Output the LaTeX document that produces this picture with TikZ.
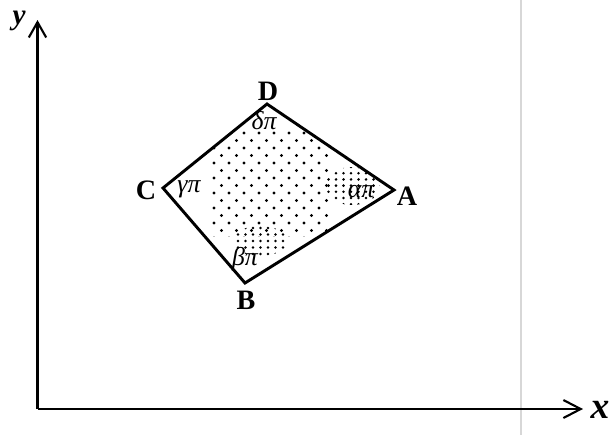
\documentclass[tikz,border=0pt]{standalone}
\usepackage{amsmath}
\usepackage{fontspec}
\setmainfont{Liberation Serif}
\usepackage{tikz}
\usetikzlibrary{arrows.meta, positioning, calc}
\definecolor{scangray}{RGB}{215, 215, 215}

\begin{document}
\begin{tikzpicture}[x=0.03cm, y=-0.03cm]
                \useasboundingbox (0,0) rectangle (612,435);
                % Scan edge
                \draw[scangray, line width=1.2pt] (521,0) -- (521,435);
                % Axes
                \coordinate (O) at (37.5,409);
                \coordinate (ytip) at (37.5,20);
                \coordinate (xtip) at (583,409);
                \draw[line width=2pt, -{Straight Barb[length=4.6mm, width=5.2mm, line width=1.8pt]}] (O) -- (ytip);
                \draw[line width=2pt, -{Straight Barb[length=5.2mm, width=5.4mm, line width=1.8pt]}] (O) -- (xtip);
                \node[font=\fontsize{25}{28}\selectfont\bfseries\itshape] (ylab) at (19,21) {y};
                \node[font=\fontsize{32}{35}\selectfont\bfseries\itshape] (xlab) at (600,410) {x};
                % Quadrilateral
                \coordinate (A) at (394,190);
                \coordinate (B) at (245,283);
                \coordinate (C) at (163,188);
                \coordinate (D) at (267,104);
                % Stipple
                \begin{scope}
                    \clip (A) -- (B) -- (C) -- (D) -- cycle;
                    \begin{scope}
                        \clip (212,131) rectangle (330,236);
                        \foreach \j in {0,...,14} {
                            \pgfmathsetmacro{\yy}{133+7.5*\j}
                            \pgfmathsetmacro{\xo}{mod(\j,2)*7.5}
                            \foreach \i in {0,...,8}
                                \fill ({214+\xo+15*\i},\yy) circle[radius=1.3pt];
                        }
                    \end{scope}
                    \begin{scope}
                        \clip (352,186) ellipse[x radius=28, y radius=19];
                        \foreach \j in {0,...,6}
                            \foreach \i in {0,...,8}
                                \fill ({321+7.5*\i},{167+6.2*\j}) circle[radius=1.2pt];
                    \end{scope}
                    \begin{scope}
                        \clip (260,241) ellipse[x radius=28, y radius=15];
                        \foreach \j in {0,...,5}
                            \foreach \i in {0,...,8}
                                \fill ({230.5+7.5*\i},{228+6.5*\j}) circle[radius=1.2pt];
                    \end{scope}
                \end{scope}
                \draw[line width=2.5pt, line join=miter] (A) -- (B) -- (C) -- (D) -- cycle;
                % Vertex labels
                \node[font=\fontsize{24}{27}\selectfont\bfseries] (labD) at (268,91) {D};
                \node[font=\fontsize{24}{27}\selectfont\bfseries] (labC) at (146,190) {C};
                \node[font=\fontsize{24}{27}\selectfont\bfseries] (labA) at (407,196) {A};
                \node[font=\fontsize{24}{27}\selectfont\bfseries] (labB) at (246,300) {B};
                % Angle labels
                \node[font=\fontsize{22}{25}\selectfont\itshape] (angD) at (264,121) {δπ};
                \node[font=\fontsize{22}{25}\selectfont\itshape] (angC) at (189,189) {γπ};
                \node[font=\fontsize{22}{25}\selectfont\itshape] (angA) at (361,192) {απ};
                \node[font=\fontsize{22}{25}\selectfont\itshape] (angB) at (245,259) {βπ};
            \end{tikzpicture}
\end{document}
